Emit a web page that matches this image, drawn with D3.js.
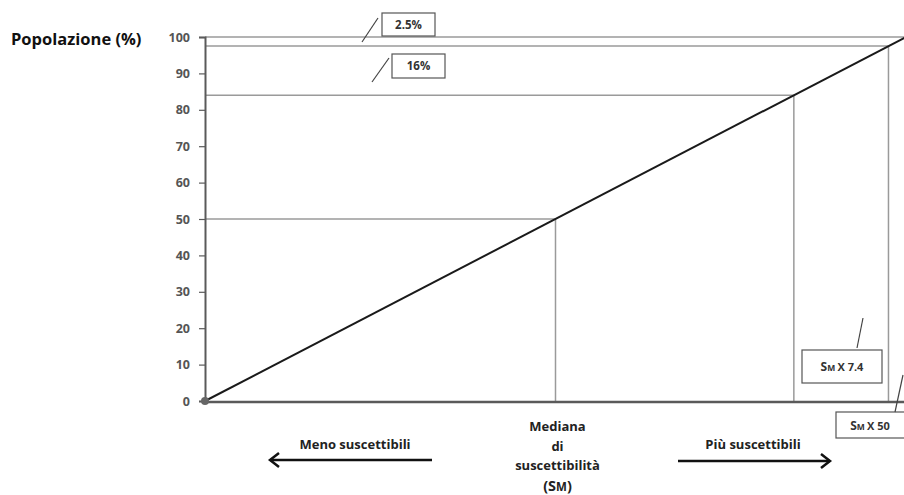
<!DOCTYPE html>
<html><head><meta charset="utf-8">
<script src="https://cdn.jsdelivr.net/npm/d3@7/dist/d3.min.js"></script>
<style>
html,body{margin:0;padding:0;background:#fff;}
svg{display:block;font-family:"Open Sans",Lato,sans-serif;}
</style></head>
<body>
<svg id="chart" width="904" height="495"></svg>
<script>
// ---- data ----
const yTicks = [0, 10, 20, 30, 40, 50, 60, 70, 80, 90, 100];
const diagonal = [[0, 0], [100, 100]];           // cumulative population vs. percentile
const refPercents = [50, 84, 97.5];               // reference points on the curve
const bandLabels = ["2.5%", "16%"];               // tails above 97.5 and 84
const multLabels = ["X 7.4", "X 50"];             // S_M multiples at 84 and 97.5
const yTitle = "Popolazione (%)";
const leftLabel = "Meno suscettibili";
const rightLabel = "Più suscettibili";
const medianLines = ["Mediana", "di", "suscettibilità"];

// ---- layout ----
const svg = d3.select("#chart");
const x = d3.scaleLinear().domain([0, 100]).range([205, 906]);
const y = d3.scaleLinear().domain([0, 100]).range([401, 37]);
const refColor = "#9a9a9a", axisColor = "#5a5a5a";
const FONT = "'Open Sans', sans-serif";

// reference lines (horizontal to the curve, vertical down to the axis)
const refs = svg.append("g");
refs.selectAll("line.h").data(refPercents).join("line")
  .attr("x1", x(0)).attr("x2", d => x(d)).attr("y1", d => y(d)).attr("y2", d => y(d))
  .attr("stroke", refColor).attr("stroke-width", 1.5);
refs.selectAll("line.v").data(refPercents).join("line")
  .attr("x1", d => x(d)).attr("x2", d => x(d)).attr("y1", y(0)).attr("y2", d => y(d))
  .attr("stroke", refColor).attr("stroke-width", 1.5);
// top 100 line
refs.append("line").attr("x1", x(0)).attr("x2", 904).attr("y1", y(100)).attr("y2", y(100))
  .attr("stroke", refColor).attr("stroke-width", 1.5);

// y axis
const yAxis = d3.axisLeft(y).tickValues(yTicks).tickSize(6).tickPadding(9);
const gy = svg.append("g").attr("transform", `translate(${x(0)},0)`).call(yAxis);
gy.select(".domain").attr("stroke", axisColor).attr("stroke-width", 2);
gy.selectAll(".tick line").attr("stroke", axisColor).attr("stroke-width", 1.2);
gy.selectAll(".tick text").attr("fill", "#555").style("font-size", "12.5px")
  .style("font-weight", "700").style("font-family", FONT);

// x axis baseline
svg.append("line").attr("x1", x(0)).attr("x2", 904).attr("y1", y(0) + 1).attr("y2", y(0) + 1)
  .attr("stroke", axisColor).attr("stroke-width", 2.5);

// diagonal
const line = d3.line().x(d => x(d[0])).y(d => y(d[1]));
svg.append("path").datum(diagonal).attr("d", line)
  .attr("fill", "none").attr("stroke", "#1a1a1a").attr("stroke-width", 2);
svg.append("circle").attr("cx", x(0)).attr("cy", y(0)).attr("r", 4).attr("fill", "#666");

// y title
svg.append("text").attr("x", 11).attr("y", 45).text(yTitle)
  .style("font-size", "16.5px").style("font-weight", "700").attr("fill", "#111");

// annotation boxes
function box(x0, y0, w, h) {
  svg.append("rect").attr("x", x0).attr("y", y0).attr("width", w).attr("height", h)
    .attr("fill", "#fff").attr("stroke", "#555").attr("stroke-width", 1.2);
}
function slash(x1, y1, x2, y2) {
  svg.append("line").attr("x1", x1).attr("y1", y1).attr("x2", x2).attr("y2", y2)
    .attr("stroke", "#444").attr("stroke-width", 1.2);
}
// 2.5%
box(382, 13, 53, 23);
svg.append("text").attr("x", 408.5).attr("y", 29).attr("text-anchor", "middle")
  .text(bandLabels[0]).style("font-size", "11.5px").style("font-weight", "700").attr("fill", "#333");
slash(362, 42, 378, 18);
// 16%
box(392, 54, 53, 24);
svg.append("text").attr("x", 418.5).attr("y", 70).attr("text-anchor", "middle")
  .text(bandLabels[1]).style("font-size", "11.5px").style("font-weight", "700").attr("fill", "#333");
slash(372, 82, 389, 58);

function smText(cx, cy, mult) {
  const t = svg.append("text").attr("x", cx).attr("y", cy).attr("text-anchor", "middle")
    .style("font-weight", "700").attr("fill", "#333");
  t.append("tspan").text("S").style("font-size", "12px");
  t.append("tspan").text("M ").style("font-size", "8.5px");
  t.append("tspan").text(mult).style("font-size", "11px");
}
// S_M x 7.4
box(802, 350, 80, 33);
smText(842, 371, multLabels[0]);
slash(857, 348, 863, 318);
// S_M x 50
box(836, 412, 80, 26);
smText(870, 430, multLabels[1]);
slash(895, 412, 903, 375);

// bottom labels
svg.append("text").attr("x", 355).attr("y", 449).attr("text-anchor", "middle").text(leftLabel)
  .style("font-size", "13px").style("font-weight", "700").attr("fill", "#222");
svg.append("text").attr("x", 753).attr("y", 449).attr("text-anchor", "middle").text(rightLabel)
  .style("font-size", "13px").style("font-weight", "700").attr("fill", "#222");
const cxMed = x(50) + 2;
medianLines.forEach((s, i) => {
  svg.append("text").attr("x", cxMed).attr("y", 431 + i * 19.5).attr("text-anchor", "middle").text(s)
    .style("font-size", "13px").style("font-weight", "700").attr("fill", "#222");
});
const sm = svg.append("text").attr("x", cxMed).attr("y", 491).attr("text-anchor", "middle")
  .style("font-weight", "700").attr("fill", "#222");
sm.append("tspan").text("(S").style("font-size", "14.5px");
sm.append("tspan").text("M").style("font-size", "11.5px");
sm.append("tspan").text(")").style("font-size", "14.5px");

// arrows
function arrow(x1, x2, yy) {
  const dir = Math.sign(x2 - x1);
  svg.append("line").attr("x1", x1).attr("x2", x2).attr("y1", yy).attr("y2", yy)
    .attr("stroke", "#111").attr("stroke-width", 2.5);
  svg.append("path").attr("d", `M${x2 - dir * 9},${yy - 7} L${x2},${yy} L${x2 - dir * 9},${yy + 7}`)
    .attr("fill", "none").attr("stroke", "#111").attr("stroke-width", 2.5);
}
arrow(432, 270, 460);
arrow(678, 830, 461);
</script>
</body></html>
